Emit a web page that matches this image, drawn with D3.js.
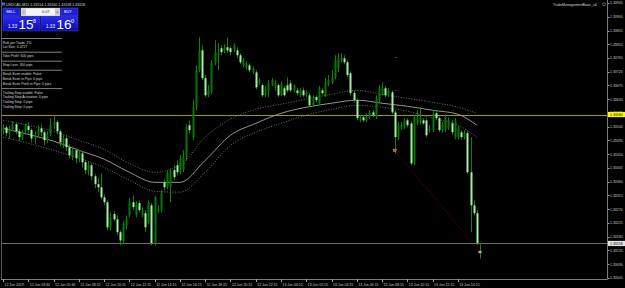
<!DOCTYPE html>
<html>
<head>
<meta charset="utf-8">
<script src="https://cdn.jsdelivr.net/npm/d3@7"></script>
<style>
body { margin: 0; background: #000; overflow: hidden; }
svg { display: block; }
text { font-family: "Liberation Sans", Arial, sans-serif; }
</style>
</head>
<body>
<svg id="canvas" width="625" height="288"></svg>
<script>

// USDCAD M15 candles (index = bar number)
const opens = [
1.33529,1.33538,1.33519,1.33532,1.33548,1.33525,1.33506,1.33522,1.33542,1.33529,
1.33502,1.33512,1.33535,1.33522,1.33496,1.33515,1.33545,1.33555,1.33525,1.33489,
1.33502,1.33473,1.33447,1.33463,1.33437,1.33453,1.33424,1.33398,1.33414,1.33378,
1.33352,1.33342,1.33309,1.33293,1.33208,1.33254,1.33237,1.33195,1.33165,1.33214,
1.33250,1.33293,1.33250,1.33290,1.33250,1.33257,1.33227,1.33283,1.33159,1.33263,
1.33267,1.33358,1.33342,1.33345,1.33398,1.33414,1.33391,1.33398,1.33440,1.33545,
1.33506,1.33604,1.33725,1.33790,1.33699,1.33643,1.33653,1.33748,1.33774,1.33797,
1.33790,1.33800,1.33797,1.33790,1.33790,1.33774,1.33741,1.33735,1.33741,1.33718,
1.33718,1.33682,1.33676,1.33643,1.33659,1.33676,1.33666,1.33676,1.33643,1.33666,
1.33676,1.33682,1.33659,1.33659,1.33643,1.33659,1.33643,1.33643,1.33610,1.33637,
1.33617,1.33659,1.33643,1.33676,1.33686,1.33702,1.33731,1.33758,1.33764,1.33751,
1.33715,1.33650,1.33627,1.33561,1.33571,1.33561,1.33571,1.33587,1.33571,1.33627,
1.33650,1.33666,1.33643,1.33653,1.33587,1.33506,1.33535,1.33538,1.33561,1.33551,
1.33420,1.33551,1.33555,1.33561,1.33561,1.33529,1.33529,1.33584,1.33568,1.33529,
1.33529,1.33535,1.33551,1.33506,1.33506,1.33522,1.33506,1.33519,1.33391,1.33283,
1.33257,1.33154];
const highs = [
1.33548,1.33545,1.33542,1.33558,1.33555,1.33532,1.33529,1.33551,1.33555,1.33535,
1.33525,1.33545,1.33548,1.33529,1.33525,1.33568,1.33578,1.33561,1.33532,1.33512,
1.33509,1.33483,1.33476,1.33470,1.33463,1.33460,1.33430,1.33424,1.33420,1.33385,
1.33371,1.33388,1.33319,1.33299,1.33260,1.33263,1.33250,1.33201,1.33231,1.33250,
1.33306,1.33316,1.33296,1.33299,1.33277,1.33267,1.33299,1.33290,1.33313,1.33283,
1.33332,1.33368,1.33398,1.33404,1.33414,1.33430,1.33447,1.33463,1.33548,1.33561,
1.33627,1.33741,1.33833,1.33807,1.33709,1.33676,1.33758,1.33823,1.33813,1.33807,
1.33810,1.33833,1.33803,1.33813,1.33800,1.33781,1.33764,1.33754,1.33748,1.33738,
1.33725,1.33699,1.33682,1.33673,1.33692,1.33699,1.33692,1.33682,1.33689,1.33673,
1.33702,1.33692,1.33679,1.33666,1.33666,1.33669,1.33659,1.33650,1.33643,1.33643,
1.33673,1.33666,1.33699,1.33709,1.33725,1.33774,1.33781,1.33781,1.33774,1.33758,
1.33722,1.33659,1.33633,1.33578,1.33578,1.33584,1.33594,1.33594,1.33643,1.33676,
1.33686,1.33673,1.33666,1.33659,1.33594,1.33555,1.33555,1.33568,1.33568,1.33558,
1.33578,1.33594,1.33604,1.33568,1.33568,1.33545,1.33594,1.33594,1.33574,1.33555,
1.33581,1.33571,1.33561,1.33568,1.33545,1.33529,1.33529,1.33525,1.33506,1.33299,
1.33267,1.33160];
const lows = [
1.33515,1.33509,1.33502,1.33525,1.33515,1.33493,1.33496,1.33515,1.33519,1.33489,
1.33483,1.33506,1.33509,1.33479,1.33486,1.33509,1.33532,1.33515,1.33476,1.33470,
1.33460,1.33437,1.33430,1.33420,1.33424,1.33407,1.33385,1.33381,1.33365,1.33339,
1.33326,1.33303,1.33283,1.33201,1.33201,1.33231,1.33185,1.33152,1.33159,1.33204,
1.33244,1.33267,1.33244,1.33260,1.33244,1.33195,1.33221,1.33152,1.33152,1.33257,
1.33260,1.33332,1.33335,1.33293,1.33365,1.33381,1.33385,1.33391,1.33430,1.33519,
1.33496,1.33594,1.33718,1.33692,1.33637,1.33637,1.33646,1.33741,1.33725,1.33774,
1.33781,1.33781,1.33774,1.33784,1.33764,1.33745,1.33735,1.33728,1.33718,1.33712,
1.33663,1.33676,1.33637,1.33637,1.33637,1.33673,1.33659,1.33637,1.33640,1.33640,
1.33653,1.33653,1.33653,1.33643,1.33637,1.33637,1.33637,1.33604,1.33604,1.33620,
1.33610,1.33643,1.33637,1.33673,1.33679,1.33695,1.33718,1.33751,1.33745,1.33702,
1.33643,1.33620,1.33561,1.33555,1.33555,1.33555,1.33565,1.33571,1.33565,1.33620,
1.33643,1.33637,1.33637,1.33581,1.33453,1.33496,1.33529,1.33532,1.33538,1.33414,
1.33414,1.33545,1.33548,1.33545,1.33506,1.33522,1.33522,1.33561,1.33522,1.33522,
1.33522,1.33529,1.33515,1.33499,1.33499,1.33499,1.33499,1.33385,1.33195,1.33250,
1.33152,1.33108];
const closes = [
1.33538,1.33519,1.33532,1.33548,1.33525,1.33506,1.33522,1.33542,1.33529,1.33502,
1.33512,1.33535,1.33522,1.33496,1.33515,1.33545,1.33555,1.33525,1.33489,1.33502,
1.33473,1.33447,1.33463,1.33437,1.33453,1.33424,1.33398,1.33414,1.33378,1.33352,
1.33342,1.33309,1.33293,1.33211,1.33244,1.33237,1.33195,1.33168,1.33224,1.33240,
1.33293,1.33277,1.33290,1.33267,1.33267,1.33211,1.33290,1.33159,1.33309,1.33270,
1.33322,1.33342,1.33388,1.33398,1.33375,1.33391,1.33437,1.33440,1.33538,1.33529,
1.33604,1.33725,1.33790,1.33699,1.33643,1.33659,1.33748,1.33784,1.33784,1.33784,
1.33800,1.33790,1.33784,1.33807,1.33774,1.33751,1.33758,1.33748,1.33725,1.33731,
1.33669,1.33692,1.33643,1.33666,1.33682,1.33692,1.33682,1.33643,1.33682,1.33643,
1.33659,1.33659,1.33676,1.33650,1.33659,1.33643,1.33653,1.33610,1.33637,1.33627,
1.33666,1.33650,1.33686,1.33692,1.33702,1.33758,1.33764,1.33767,1.33751,1.33709,
1.33650,1.33627,1.33568,1.33571,1.33561,1.33571,1.33587,1.33578,1.33633,1.33666,
1.33666,1.33643,1.33659,1.33587,1.33506,1.33545,1.33545,1.33561,1.33545,1.33420,
1.33571,1.33571,1.33571,1.33551,1.33512,1.33535,1.33584,1.33568,1.33529,1.33545,
1.33571,1.33561,1.33522,1.33561,1.33538,1.33506,1.33519,1.33391,1.33283,1.33257,
1.33159,1.33158];

// moving average with its two bands, sampled every 8 bars
const envIdx = [0,8,16,24,32,40,48,56,64,72,80,88,96,104,112,120,128,136,144,150];
const envUpper = [1.33561,1.33545,1.33525,1.33496,1.33466,1.33420,1.33391,1.33414,1.33506,1.33565,
                  1.33597,1.33614,1.33630,1.33646,1.33659,1.33646,1.33633,1.33620,1.33604,1.33584];
const envMid = [1.33535,1.33515,1.33493,1.33463,1.33434,1.33391,1.33358,1.33358,1.33430,1.33512,
                1.33551,1.33584,1.33604,1.33617,1.33627,1.33617,1.33607,1.33594,1.33581,1.33545];
const envLower = [1.33506,1.33486,1.33463,1.33437,1.33407,1.33365,1.33329,1.33326,1.33391,1.33479,
                  1.33522,1.33551,1.33578,1.33597,1.33610,1.33604,1.33591,1.33568,1.33545,1.33506];

const priceTicks = [1.33945,1.33900,1.33855,1.33810,1.33765,1.33720,1.33675,1.33630,1.33585,1.33540,
                    1.33495,1.33450,1.33405,1.33360,1.33315,1.33270,1.33225,1.33180,1.33135,1.33090,1.33045];
const timeLabels = ["12 Jun 2019","12 Jun 03:30","12 Jun 05:30","12 Jun 08:15","12 Jun 10:15","12 Jun 12:15",
                    "12 Jun 14:15","12 Jun 16:15","12 Jun 18:15","12 Jun 20:15","12 Jun 22:15","13 Jun 00:15",
                    "13 Jun 02:15","13 Jun 04:15","13 Jun 06:15","13 Jun 08:15","13 Jun 10:15","13 Jun 12:15","13 Jun 14:15"];

const yellowLevel = 1.33580;
const bid = 1.33158, ask = 1.33160;
const header = "USDCAD,M15  1.33154 1.33160 1.33108 1.33158";
const trade = {openBar: 124, openPrice: 1.33463, closeBar: 151, closePrice: 1.33130, tp: 1.33767, sl: 1.33659};

const infoLines = [
  ["Risk per Trade: 2%", "Lot Size: 0.0727"],
  ["Take Profit: 600 pips"],
  ["Stop Loss: 300 pips"],
  ["Break Even enable: False", "Break Even in Pips: 0 pips", "Break Even Profit in Pips: 0 pips"],
  ["Trailing Stop enable: False", "Trailing Stop Activation: 0 pips", "Trailing Stop: 0 pips", "Trailing Step: 0 pips"]
];

const svg = d3.select('#canvas');
const plotRight = 607, plotBottom = 279;

const x = d3.scaleLinear().domain([0, 151]).range([3, 480]);
const y = d3.scaleLinear().domain([1.33945, 1.33045]).range([3, 278]);

svg.append('rect').attr('width', 625).attr('height', 288).attr('fill', '#000');

svg.append('defs').append('clipPath').attr('id', 'plot')
  .append('rect').attr('x', 2).attr('y', 0).attr('width', plotRight - 2).attr('height', plotBottom);

const plot = svg.append('g').attr('clip-path', 'url(#plot)');

// horizontal levels
plot.append('line')
  .attr('x1', 0).attr('x2', plotRight)
  .attr('y1', Math.round(y(yellowLevel)) + 0.5).attr('y2', Math.round(y(yellowLevel)) + 0.5)
  .attr('stroke', '#9c9c00');
plot.append('line')
  .attr('x1', 0).attr('x2', plotRight)
  .attr('y1', Math.round(y(bid)) + 0.5).attr('y2', Math.round(y(bid)) + 0.5)
  .attr('stroke', '#6c6c6c');

// envelope
const env = envIdx.map((d, i) => ({i: d, u: envUpper[i], m: envMid[i], l: envLower[i]}));
const line = key => d3.line().x(d => x(d.i)).y(d => y(d[key])).curve(d3.curveMonotoneX);
plot.append('path').datum(env).attr('d', line('u'))
  .attr('fill', 'none').attr('stroke', '#8c8c8c').attr('stroke-width', 0.8).attr('stroke-dasharray', '1,1.6');
plot.append('path').datum(env).attr('d', line('l'))
  .attr('fill', 'none').attr('stroke', '#8c8c8c').attr('stroke-width', 0.8).attr('stroke-dasharray', '1,1.6');
plot.append('path').datum(env).attr('d', line('m'))
  .attr('fill', 'none').attr('stroke', '#a4a4a4').attr('stroke-width', 0.9);

// candles
const bars = opens.map((o, i) => ({i: i, o: o, h: highs[i], l: lows[i], c: closes[i]}));

plot.selectAll('line.wick')
  .data(bars)
  .join('line')
  .attr('class', 'wick')
  .attr('x1', d => Math.round(x(d.i)) + 0.5)
  .attr('x2', d => Math.round(x(d.i)) + 0.5)
  .attr('y1', d => y(d.h))
  .attr('y2', d => y(d.l))
  .attr('stroke', '#12820f');

plot.selectAll('rect.body')
  .data(bars)
  .join('rect')
  .attr('class', 'body')
  .attr('x', d => Math.round(x(d.i)) - 0.5)
  .attr('width', 2)
  .attr('y', d => y(Math.max(d.o, d.c)))
  .attr('height', d => Math.max(1, Math.abs(y(d.o) - y(d.c))))
  .attr('fill', d => d.c >= d.o ? '#067606' : '#a4f0a0');

// trade objects
plot.append('line')
  .attr('x1', x(trade.openBar)).attr('y1', y(trade.openPrice))
  .attr('x2', x(trade.closeBar)).attr('y2', y(trade.closePrice))
  .attr('stroke', '#8a0000').attr('stroke-width', 0.8).attr('stroke-dasharray', '1,1');
plot.append('rect')
  .attr('x', x(trade.openBar) - 1.5).attr('y', y(trade.openPrice) - 1.2).attr('width', 3).attr('height', 2.4)
  .attr('fill', '#ff2020').attr('stroke', '#ffffff').attr('stroke-width', 0.3);
plot.append('rect')
  .attr('x', x(trade.closeBar) - 1.5).attr('y', y(trade.closePrice) - 1.2).attr('width', 3).attr('height', 2.4)
  .attr('fill', '#f0a070');
plot.append('rect')
  .attr('x', x(trade.openBar)).attr('y', y(trade.tp) - 0.5).attr('width', 3).attr('height', 1)
  .attr('fill', '#0a5a0a');
plot.append('rect')
  .attr('x', x(trade.openBar)).attr('y', y(trade.sl) - 0.5).attr('width', 3).attr('height', 1)
  .attr('fill', '#7a0000');

// frame
svg.append('line').attr('x1', 1.5).attr('x2', 1.5).attr('y1', 0).attr('y2', plotBottom + 0.5)
  .attr('stroke', '#5a5a5a');
svg.append('line').attr('x1', 1).attr('x2', plotRight + 0.5).attr('y1', plotBottom + 0.5).attr('y2', plotBottom + 0.5)
  .attr('stroke', '#7a7a7a');
svg.append('line').attr('x1', plotRight + 0.5).attr('x2', plotRight + 0.5).attr('y1', 0).attr('y2', plotBottom + 0.5)
  .attr('stroke', '#7a7a7a');

// price axis
const yAxis = svg.append('g');
yAxis.selectAll('line')
  .data(priceTicks)
  .join('line')
  .attr('x1', plotRight + 1).attr('x2', plotRight + 2.5)
  .attr('y1', d => Math.round(y(d)) + 0.5).attr('y2', d => Math.round(y(d)) + 0.5)
  .attr('stroke', '#a0a0a0');
yAxis.selectAll('text')
  .data(priceTicks)
  .join('text')
  .attr('x', 610)
  .attr('y', d => y(d) + 1.3)
  .attr('font-size', 3.5)
  .attr('fill', '#c8c8c8')
  .text(d => d.toFixed(5));

function priceTag(p, bg, fg) {
  const g = svg.append('g');
  g.append('rect').attr('x', 608).attr('y', y(p) - 2.6).attr('width', 17).attr('height', 5.2).attr('fill', bg);
  g.append('text').attr('x', 610).attr('y', y(p) + 1.3)
    .attr('font-size', 3.5).attr('fill', fg).text(p.toFixed(5));
}
priceTag(yellowLevel, '#ffff00', '#000');
priceTag(bid, '#e4e4e4', '#000');

// time axis
const xAxis = svg.append('g');
xAxis.selectAll('line')
  .data(timeLabels)
  .join('line')
  .attr('x1', (d, i) => Math.round(x(i * 8)) + 0.5)
  .attr('x2', (d, i) => Math.round(x(i * 8)) + 0.5)
  .attr('y1', plotBottom).attr('y2', plotBottom + 3)
  .attr('stroke', '#a0a0a0');
xAxis.selectAll('text')
  .data(timeLabels)
  .join('text')
  .attr('x', (d, i) => x(i * 8) + 1.5)
  .attr('y', 285.5)
  .attr('font-size', 3.5)
  .attr('fill', '#c8c8c8')
  .text(d => d);

// header texts
svg.append('rect').attr('x', 2).attr('y', 2.5).attr('width', 3).attr('height', 3).attr('fill', '#3070c0');
svg.append('text').attr('x', 6).attr('y', 5.5).attr('font-size', 3.6).attr('fill', '#d8d8d8').text(header);
svg.append('text').attr('x', 553).attr('y', 5.5).attr('font-size', 3.5).attr('fill', '#d8d8d8')
  .text('TradeManagementBasic_v4');
svg.append('circle').attr('cx', 604).attr('cy', 4.3).attr('r', 1.5)
  .attr('fill', 'none').attr('stroke', '#d8d8d8').attr('stroke-width', 0.4);

// trade panel
const panel = svg.append('g');
function button(px, label) {
  panel.append('rect').attr('x', px).attr('y', 8).attr('width', 17).attr('height', 8)
    .attr('fill', '#1e1ed6').attr('stroke', '#5a5aff').attr('stroke-width', 0.4);
  panel.append('text').attr('x', px + 3).attr('y', 13.4).attr('font-size', 3.8).attr('fill', '#fff').text(label);
}
button(3, 'SELL');
button(61, 'BUY');
panel.append('rect').attr('x', 21).attr('y', 8).attr('width', 39).attr('height', 8)
  .attr('fill', '#f4f4f4').attr('stroke', '#9a9a9a').attr('stroke-width', 0.4);
panel.append('rect').attr('x', 21.5).attr('y', 8.5).attr('width', 4.5).attr('height', 7).attr('fill', '#c8c8c8');
panel.append('rect').attr('x', 55).attr('y', 8.5).attr('width', 4.5).attr('height', 7).attr('fill', '#c8c8c8');
panel.append('text').attr('x', 22.8).attr('y', 13.4).attr('font-size', 4).attr('fill', '#222').text('-');
panel.append('text').attr('x', 56.2).attr('y', 13.4).attr('font-size', 4).attr('fill', '#222').text('+');
panel.append('text').attr('x', 42).attr('y', 13.4).attr('font-size', 3.8).attr('fill', '#333').text('0.07');

const grad = svg.select('defs').append('linearGradient').attr('id', 'blue')
  .attr('x1', 0).attr('x2', 0).attr('y1', 0).attr('y2', 1);
grad.append('stop').attr('offset', '0%').attr('stop-color', '#2a2af0');
grad.append('stop').attr('offset', '100%').attr('stop-color', '#0c0cb4');

function quote(px, p) {
  const s = p.toFixed(5);
  panel.append('rect').attr('x', px).attr('y', 16.5).attr('width', 37).attr('height', 14.5)
    .attr('fill', 'url(#blue)').attr('stroke', '#4a4aff').attr('stroke-width', 0.4);
  panel.append('text').attr('x', px + 5).attr('y', 27.8).attr('font-size', 4.6).attr('fill', '#fff').text(s.slice(0, 4));
  panel.append('text').attr('x', px + 15.5).attr('y', 28.6).attr('font-size', 13.5).attr('fill', '#fff').text(s.slice(4, 6));
  panel.append('text').attr('x', px + 30).attr('y', 22.5).attr('font-size', 5.5).attr('fill', '#fff').text(s.slice(6));
}
quote(3, bid);
quote(41, ask);

// info block under the panel
let cy = 38.5;
infoLines.forEach(group => {
  panel.append('line').attr('x1', 2).attr('x2', 62).attr('y1', cy).attr('y2', cy)
    .attr('stroke', '#b8b8b8').attr('stroke-width', 0.7);
  group.forEach((t, k) => {
    panel.append('text').attr('x', 2.7).attr('y', cy + 5.1 + k * 4.7)
      .attr('font-size', 3.4).attr('fill', '#d8d8d8').text(t);
  });
  cy += 4.7 * group.length + 4.3;
});

</script>
</body>
</html>
